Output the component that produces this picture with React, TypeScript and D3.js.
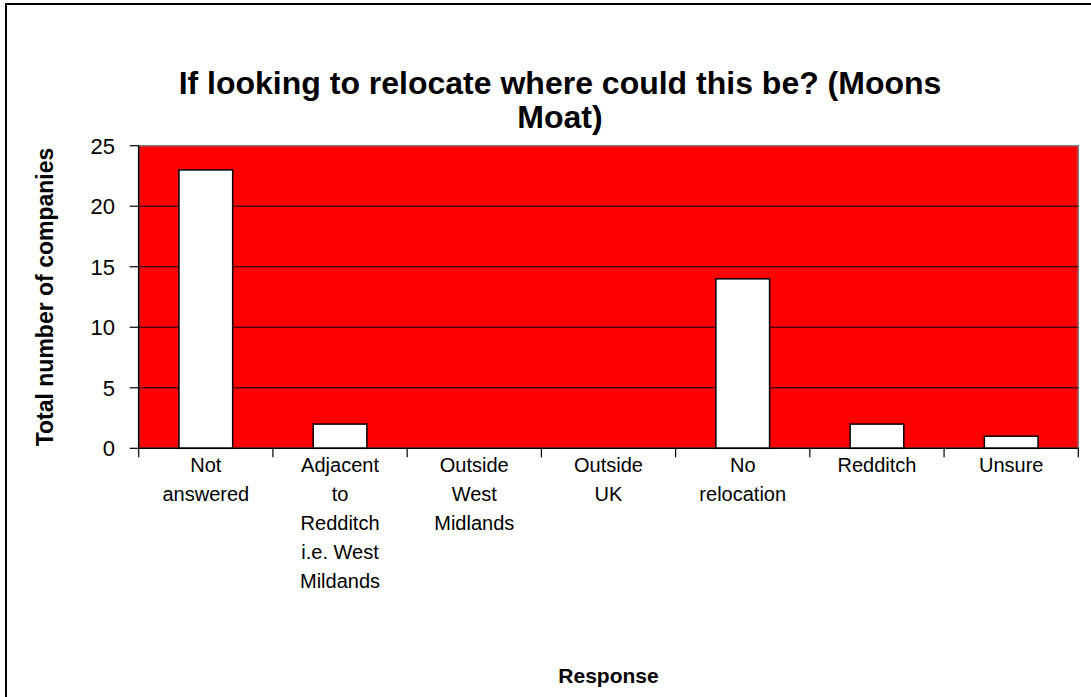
import React from "react";
import * as d3 from "d3";

const categories: string[][] = [
  ["Not", "answered"],
  ["Adjacent", "to", "Redditch", "i.e. West", "Mildands"],
  ["Outside", "West", "Midlands"],
  ["Outside", "UK"],
  ["No", "relocation"],
  ["Redditch"],
  ["Unsure"],
];
const values: number[] = [23, 2, 0, 0, 14, 2, 1];
const yTicks: number[] = [0, 5, 10, 15, 20, 25];
const titleLines: string[] = ["If looking to relocate where could this be? (Moons", "Moat)"];
const yTitle = "Total number of companies";
const xTitle = "Response";

const W = 1091;
const H = 697;
const plot = { left: 138.7, right: 1078.3, top: 145.7, bottom: 448.3 };
const FONT = "Arial, 'Liberation Sans', sans-serif";

export default function App() {
  const keys = categories.map((_, i) => String(i));
  const x = d3
    .scaleBand<string>()
    .domain(keys)
    .range([plot.left, plot.right])
    .paddingInner(0.6)
    .paddingOuter(0.3);
  const y = d3.scaleLinear().domain([0, 25]).range([plot.bottom, plot.top]);
  const step = x.step();
  const boundaries = d3.range(categories.length + 1).map((k) => plot.left + k * step);
  const plotCenter = (plot.left + plot.right) / 2;

  return (
    <svg
      width={W}
      height={H}
      style={{ position: "absolute", left: 0, top: 0, background: "#fff" }}
      fontFamily={FONT}
    >
      <rect x={6} y={4} width={W + 20} height={H + 20} fill="#fff" stroke="#000" strokeWidth={2} />
      {titleLines.map((t, i) => (
        <text
          key={i}
          x={560}
          y={94 + i * 34}
          textAnchor="middle"
          fontSize={32}
          fontWeight="bold"
        >
          {t}
        </text>
      ))}
      <rect
        x={plot.left}
        y={plot.top}
        width={plot.right - plot.left}
        height={plot.bottom - plot.top}
        fill="#ff0000"
        stroke="#808080"
        strokeWidth={1.5}
      />
      {yTicks
        .filter((t) => t > 0 && t < 25)
        .map((t) => (
          <line key={t} x1={plot.left} x2={plot.right} y1={y(t)} y2={y(t)} stroke="#000" strokeWidth={1} />
        ))}
      {values.map((v, i) => (
        <rect
          key={i}
          x={x(String(i))!}
          y={y(v)}
          width={x.bandwidth()}
          height={plot.bottom - y(v)}
          fill="#fff"
          stroke="#000"
          strokeWidth={1.5}
        />
      ))}
      <line x1={plot.left} x2={plot.left} y1={plot.top} y2={plot.bottom} stroke="#000" strokeWidth={1.5} />
      <line x1={plot.left} x2={plot.right} y1={plot.bottom} y2={plot.bottom} stroke="#000" strokeWidth={1.5} />
      {yTicks.map((t) => (
        <g key={t}>
          <line x1={plot.left - 9} x2={plot.left} y1={y(t)} y2={y(t)} stroke="#000" strokeWidth={1.2} />
          <text x={115} y={y(t) + 8} textAnchor="end" fontSize={22}>
            {t}
          </text>
        </g>
      ))}
      {boundaries.map((bx, k) => (
        <line key={k} x1={bx} x2={bx} y1={plot.bottom} y2={plot.bottom + 9} stroke="#000" strokeWidth={1.2} />
      ))}
      {categories.map((lines, i) => (
        <text key={i} textAnchor="middle" fontSize={20}>
          {lines.map((l, j) => (
            <tspan key={j} x={x(String(i))! + x.bandwidth() / 2} y={472 + j * 29}>
              {l}
            </tspan>
          ))}
        </text>
      ))}
      <text
        transform={`translate(53, ${(plot.top + plot.bottom) / 2}) rotate(-90)`}
        textAnchor="middle"
        fontSize={23}
        fontWeight="bold"
      >
        {yTitle}
      </text>
      <text x={plotCenter} y={683} textAnchor="middle" fontSize={21} fontWeight="bold">
        {xTitle}
      </text>
    </svg>
  );
}
